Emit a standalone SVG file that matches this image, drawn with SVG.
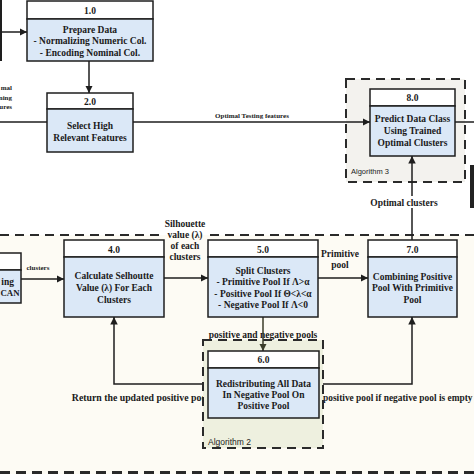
<svg xmlns="http://www.w3.org/2000/svg" width="474" height="474" viewBox="0 0 474 474">
<style>
.hd{fill:#ffffff;stroke:#1e1e1e;stroke-width:1.5}
.bd{fill:#dbe8f7;stroke:#1e1e1e;stroke-width:1.5}
.t{font-family:"Liberation Serif","Times New Roman",serif;font-weight:bold;fill:#1a1a1a;text-anchor:middle}
.n{font-size:9.5px}
.s{font-size:7px}
.l{font-size:9.8px}
.alg{font-family:"Liberation Sans",Arial,sans-serif;fill:#222}
.c{fill:none;stroke:#1e1e1e;stroke-width:1.5}
.dash{fill:none;stroke:#2a2a2a;stroke-width:2;stroke-dasharray:9,6}
</style>
<defs>
<marker id="ah" viewBox="0 0 10 10" refX="10" refY="5" markerWidth="5" markerHeight="5" orient="auto" markerUnits="strokeWidth">
<path d="M0,0 L10,5 L0,10 z" fill="#1e1e1e"/>
</marker>
<marker id="ah2" viewBox="0 0 10 10" refX="10" refY="5" markerWidth="5" markerHeight="5" orient="auto" markerUnits="strokeWidth">
<path d="M0,0 L10,5 L0,10 z" fill="#3b3d2a"/>
</marker>
</defs>
<rect x="0" y="0" width="474" height="474" fill="#ffffff"/>
<g id="region-main">
<rect x="-5" y="235" width="485" height="245" fill="#fdfbf4"/>
<line class="dash" x1="0" y1="235" x2="163" y2="235"/>
<line class="dash" x1="210" y1="235" x2="474" y2="235"/>
<line x1="0" y1="473" x2="474" y2="473" stroke="#2a2a2a" stroke-width="4" stroke-dasharray="10,6"/>
</g>
<g id="region-alg3">
<rect x="346" y="79" width="119" height="103" fill="#f3f2ee"/>
<rect class="dash" x="346" y="79" width="119" height="103"/>
<text class="alg" x="351" y="174" font-size="7.5">Algorithm 3</text>
</g>
<g id="connectors">
<line x1="1" y1="0" x2="1" y2="61" stroke="#1e1e1e" stroke-width="2"/>
<line class="c" x1="2" y1="32" x2="27" y2="32" marker-end="url(#ah)"/>
<line class="c" x1="89" y1="61" x2="89" y2="93" marker-end="url(#ah)"/>
<line class="c" x1="0" y1="122" x2="47" y2="122"/>
<text class="t s" x="12" y="90" style="text-anchor:end">mal</text>
<text class="t s" x="12" y="99.5" style="text-anchor:end">ning</text>
<text class="t s" x="12" y="108.5" style="text-anchor:end">ures</text>
<line class="c" x1="133" y1="122" x2="370" y2="122" marker-end="url(#ah)"/>
<text class="t s" x="252" y="117.5">Optimal Testing features</text>
<line class="c" x1="455" y1="122" x2="474" y2="122"/>
<line class="c" x1="21" y1="279" x2="64" y2="279" marker-end="url(#ah)"/>
<text class="t s" x="38" y="269.5">clusters</text>
<line class="c" x1="164" y1="278" x2="208" y2="278" marker-end="url(#ah)"/>
<text class="t n" x="185" y="227">Silhouette</text>
<text class="t n" x="185" y="238">value (λ)</text>
<text class="t n" x="185" y="249">of each</text>
<text class="t n" x="185" y="260">clusters</text>
<line class="c" x1="318" y1="278" x2="368" y2="278" marker-end="url(#ah)"/>
<text class="t n" x="340" y="257">Primitive</text>
<text class="t n" x="340" y="268">pool</text>
<line class="c" x1="412" y1="240" x2="412" y2="208"/>
<line class="c" x1="412" y1="196" x2="412" y2="156" marker-end="url(#ah)"/>
<text class="t n" x="404" y="206">Optimal clusters</text>
<polyline class="c" points="208,384 114,384 114,317" marker-end="url(#ah)"/>
<text class="t l" x="209" y="401" style="text-anchor:end">Return the updated positive pool</text>
<polyline class="c" points="319,384 412,384 412,317" marker-end="url(#ah)"/>
<text class="t" x="323" y="401" font-size="9.4" style="text-anchor:start">positive pool if negative pool is empty</text>
<text class="t n" x="263" y="338">positive and negative pools</text>
</g>
<g id="region-alg2">
<rect x="203" y="340" width="120" height="108" fill="#eef0df"/>
<rect class="dash" x="203" y="340" width="120" height="108"/>
<text class="alg" x="208" y="445" font-size="8.5">Algorithm 2</text>
<line x1="263" y1="317" x2="263" y2="351" stroke="#3b3d2a" stroke-width="1.5" marker-end="url(#ah2)"/>
</g>
<g id="node-1">
<rect class="hd" x="27" y="1" width="126" height="18"/>
<rect class="bd" x="27" y="19" width="126" height="42"/>
<text class="t n" x="90" y="13.5">1.0</text>
<text class="t n" x="90" y="32.5">Prepare Data</text>
<text class="t n" x="90" y="44">- Normalizing Numeric Col.</text>
<text class="t n" x="90" y="55.5">- Encoding Nominal Col.</text>
</g>
<g id="node-2">
<rect class="hd" x="47" y="93" width="86" height="16"/>
<rect class="bd" x="47" y="109" width="86" height="43"/>
<text class="t n" x="90" y="104.5">2.0</text>
<text class="t n" x="90" y="128.5">Select High</text>
<text class="t n" x="90" y="140.5">Relevant Features</text>
</g>
<g id="node-8">
<rect class="hd" x="370" y="89" width="85" height="17"/>
<rect class="bd" x="370" y="106" width="85" height="50"/>
<text class="t n" x="412.5" y="100.5">8.0</text>
<text class="t n" x="412.5" y="121.5">Predict Data Class</text>
<text class="t n" x="412.5" y="133.5">Using Trained</text>
<text class="t n" x="412.5" y="145.5">Optimal Clusters</text>
</g>
<g id="node-3">
<rect class="hd" x="-10" y="253" width="31" height="17"/>
<rect class="bd" x="-10" y="270" width="31" height="33"/>
<text class="t n" x="14" y="285" style="text-anchor:end">ing</text>
<text class="t" x="19.5" y="296" font-size="8.8" style="text-anchor:end">CAN</text>
</g>
<g id="node-4">
<rect class="hd" x="64" y="240" width="100" height="17"/>
<rect class="bd" x="64" y="257" width="100" height="60"/>
<text class="t n" x="114" y="252.5">4.0</text>
<text class="t n" x="114" y="278.5">Calculate Selhoutte</text>
<text class="t n" x="114" y="290.5">Value (λ) For Each</text>
<text class="t n" x="114" y="302.5">Clusters</text>
</g>
<g id="node-5">
<rect class="hd" x="208" y="240" width="110" height="17"/>
<rect class="bd" x="208" y="257" width="110" height="60"/>
<text class="t n" x="263" y="252.5">5.0</text>
<text class="t n" x="263" y="273.5">Split Clusters</text>
<text class="t n" x="263" y="284.5">- Primitive Pool If Λ&gt;α</text>
<text class="t n" x="263" y="296.5">- Positive Pool If Θ&lt;λ&lt;α</text>
<text class="t n" x="263" y="307.5">- Negative Pool If Λ&lt;0</text>
</g>
<g id="node-7">
<rect class="hd" x="368" y="240" width="89" height="17"/>
<rect class="bd" x="368" y="257" width="89" height="60"/>
<text class="t n" x="412.5" y="252.5">7.0</text>
<text class="t n" x="412.5" y="279.5">Combining Positive</text>
<text class="t n" x="412.5" y="290.5">Pool With Primitive</text>
<text class="t n" x="412.5" y="302.5">Pool</text>
</g>
<g id="node-6">
<rect class="hd" x="208" y="351" width="111" height="17"/>
<rect class="bd" x="208" y="368" width="111" height="50"/>
<text class="t n" x="263.5" y="362.5">6.0</text>
<text class="t n" x="263.5" y="386.5">Redistributing All Data</text>
<text class="t n" x="263.5" y="397.5">In Negative Pool On</text>
<text class="t n" x="263.5" y="408.5">Positive Pool</text>
</g>
<g id="edge-box">
<rect x="470" y="165" width="4" height="43" fill="#222"/>
</g>
</svg>
